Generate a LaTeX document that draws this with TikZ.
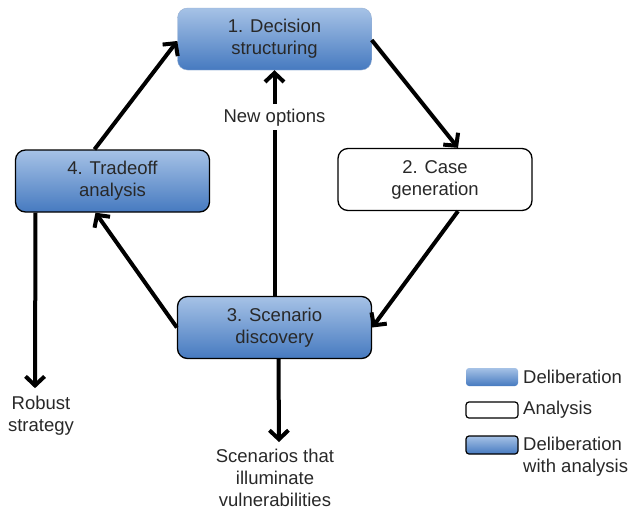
\documentclass[tikz,border=0pt]{standalone}
\usepackage{fontspec}
\setmainfont{Liberation Sans}
\usetikzlibrary{arrows.meta}
\definecolor{gtop}{RGB}{166,194,230}
\definecolor{gbot}{RGB}{70,122,192}
\definecolor{txt}{RGB}{40,40,40}
\definecolor{lightedge}{RGB}{150,175,210}
\begin{document}
\begin{tikzpicture}[x=1pt,y=-1pt,
  box/.style={rounded corners=10pt, minimum width=194pt, minimum height=62pt,
    align=center, font=\fontsize{18.5}{22}\selectfont, text=txt, inner sep=0pt},
  delib/.style={box, top color=gtop, bottom color=gbot, draw=lightedge, line width=0.4pt},
  analysis/.style={box, fill=white, draw=black, line width=1.3pt},
  both/.style={box, top color=gtop, bottom color=gbot, draw=black, line width=1.3pt},
  lab/.style={align=center, font=\fontsize{18.5}{22}\selectfont, text=txt, inner sep=1pt},
  conn/.style={line width=4pt, -{Straight Barb[length=9pt,width=19pt]}},
  plain/.style={line width=4pt},
  legbox/.style={rounded corners=3pt, minimum width=52pt, inner sep=0pt},
]
\useasboundingbox (0,0) rectangle (631,509);
\node[delib] (b1) at (274.5,39) {1. Decision\\structuring};
\node[analysis] (b2) at (435,179.5) {2. Case\\generation};
\node[both] (b3) at (274.5,327.5) {3. Scenario\\discovery};
\node[both] (b4) at (112.5,181) {4. Tradeoff\\analysis};

\node[lab] (newopt) at (274.5,118) {New options};
\node[lab] (robust) at (41,416) {Robust\\strategy};
\node[lab] (scen) at (275,478) {Scenarios that\\illuminate\\vulnerabilities};

\draw[conn] ([xshift=-18pt]b4.north) -- ([yshift=-2pt]b1.west);
\draw[conn] ([yshift=-1pt]b1.east) -- ([xshift=23pt]b2.north);
\draw[conn] ([xshift=23pt]b2.south) -- (b3.east);
\draw[conn] (b3.west) -- ([xshift=-17pt]b4.south);
\draw[plain] (b3.north) -- ([yshift=-2pt]newopt.south);
\draw[conn] ([yshift=4pt]newopt.north) -- (b1.south);
\draw[conn] ([xshift=-77pt]b4.south) -- ([xshift=-6pt,yshift=7pt]robust.north);
\draw[conn] ([xshift=4pt]b3.south) -- ([xshift=4pt,yshift=6pt]scen.north);

\node[legbox, minimum height=18pt, top color=gtop, bottom color=gbot] (l1) at (492,377) {};
\node[legbox, minimum height=16pt, fill=white, draw=black, line width=1.2pt] (l2) at (492,410) {};
\node[legbox, minimum height=18pt, top color=gtop, bottom color=gbot, draw=black, line width=1.2pt] (l3) at (492,445) {};
\node[lab, anchor=west] (t1) at (522,377) {Deliberation};
\node[lab, anchor=west] (t2) at (522,410) {Analysis};
\node[lab, anchor=west, align=left] (t3) at (522,457) {Deliberation\\with analysis};
\end{tikzpicture}
\end{document}
